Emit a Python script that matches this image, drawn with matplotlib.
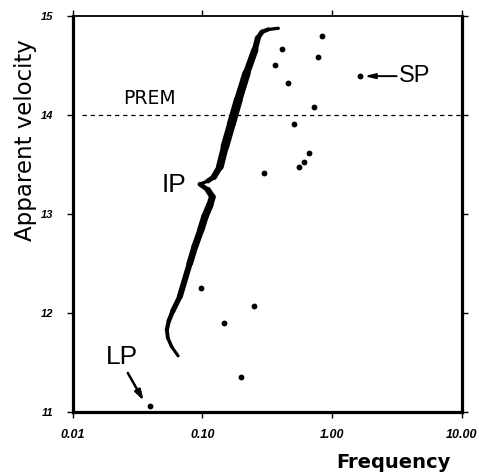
import matplotlib
matplotlib.use('Agg')
import matplotlib.pyplot as plt
from matplotlib.collections import LineCollection

# ---- data ----
# scattered observations (frequency, apparent velocity)
obs_freq = [0.83, 0.41, 0.78, 0.36, 1.65, 0.46, 0.72, 0.51, 0.66, 0.61, 0.56, 0.30,
            0.098, 0.25, 0.148, 0.198, 0.0395]
obs_vel = [14.80, 14.66, 14.58, 14.50, 14.39, 14.32, 14.08, 13.91, 13.61, 13.52, 13.47, 13.41,
           12.25, 12.07, 11.90, 11.35, 11.06]

# IP curve (bottom to top)
ip_freq = [0.0650, 0.0581, 0.0542, 0.0532, 0.0551, 0.0592, 0.0670, 0.0800, 0.0875, 0.0973,
           0.1045, 0.1143, 0.1194, 0.1103, 0.0957, 0.1103, 0.1227, 0.1365, 0.1492, 0.168,
           0.189, 0.219, 0.254, 0.268, 0.288, 0.321, 0.385]
ip_vel = [11.566, 11.657, 11.746, 11.829, 11.919, 12.020, 12.164, 12.502, 12.669, 12.838,
          12.969, 13.090, 13.171, 13.242, 13.299, 13.332, 13.373, 13.476, 13.678, 13.914,
          14.149, 14.419, 14.654, 14.775, 14.836, 14.861, 14.873]

prem_velocity = 14.0
x_ticks = [0.01, 0.1, 1.0, 10.0]
x_tick_labels = ['0.01', '0.10', '1.00', '10.00']
y_ticks = [11, 12, 13, 14, 15]
y_tick_labels = ['11', '12', '13', '14', '15']

# ---- style: segment widths (pt) for the IP curve ----
ip_widths = [2.2, 2.5, 2.8, 3.0, 3.3, 3.8, 4.3, 4.8, 5.0, 5.3, 5.3, 5.0, 4.4, 3.4, 2.4,
             3.6, 4.6, 5.6, 6.2, 6.4, 6.0, 5.2, 4.3, 3.6, 3.0, 2.4]

fig = plt.figure(figsize=(4.79, 4.72), dpi=100)
ax = fig.add_axes([72.7 / 479, 1 - 412 / 472, (461.7 - 72.7) / 479, (412 - 15.7) / 472])
ax.set_xscale('log')
ax.set_xlim(0.01, 10)
ax.set_ylim(11, 15)

# PREM line
ax.plot([0.0117, 10], [prem_velocity, prem_velocity], color='black', lw=0.9,
        dashes=(3.5, 3.0))

# IP curve
segs = [[(ip_freq[i], ip_vel[i]), (ip_freq[i + 1], ip_vel[i + 1])] for i in range(len(ip_freq) - 1)]
lc = LineCollection(segs, linewidths=ip_widths, colors='black', capstyle='round',
                    joinstyle='round', transform=ax.transData)
ax.add_collection(lc)

# observations
ax.plot(obs_freq, obs_vel, 'o', color='black', ms=4.2, mec='none', clip_on=False)

# annotations
lab_font = 'Liberation Sans'
ax.text(0.0393, 14.163, 'PREM', fontsize=13.5, family='DejaVu Sans', ha='center', va='center')
ax.text(3.3, 14.39, 'SP', fontsize=17, family=lab_font, ha='left', va='center')
ax.annotate('', xy=(1.78, 14.39), xytext=(3.15, 14.39),
            arrowprops=dict(arrowstyle='-|>,head_length=0.6,head_width=0.15', color='black', lw=1.4,
                            shrinkA=0, shrinkB=0))
ax.text(0.0757, 13.29, 'IP', fontsize=19, family=lab_font, ha='right', va='center')
ax.text(0.0241, 11.556, 'LP', fontsize=19, family=lab_font, ha='center', va='center')
ax.annotate('', xy=(0.0353, 11.112), xytext=(0.0266, 11.394),
            arrowprops=dict(arrowstyle='-|>,head_length=0.6,head_width=0.18', color='black', lw=1.8,
                            shrinkA=0, shrinkB=0))

# axes styling
ax.set_xticks(x_ticks)
ax.set_xticklabels(x_tick_labels)
ax.set_yticks(y_ticks)
ax.set_yticklabels(y_tick_labels)
ax.minorticks_off()
ax.tick_params(axis='both', which='major', direction='out', length=4, width=1,
               top=True, right=True, labelright=False, labeltop=False)
ax.tick_params(axis='x', pad=8)
ax.tick_params(axis='y', pad=10)
for lbl in ax.get_xticklabels():
    lbl.set_fontfamily(lab_font)
    lbl.set_fontstyle('italic')
    lbl.set_fontweight('bold')
    lbl.set_fontsize(9)
for lbl in ax.get_yticklabels():
    lbl.set_fontfamily(lab_font)
    lbl.set_fontstyle('italic')
    lbl.set_fontweight('bold')
    lbl.set_fontsize(8)

for side in ['left', 'right', 'bottom']:
    ax.spines[side].set_linewidth(2.3)
ax.spines['top'].set_linewidth(1.3)

fig.text(26 / 479, 1 - 140 / 472, 'Apparent velocity', rotation=90, fontsize=16.5,
         family='DejaVu Sans', ha='center', va='center')
fig.text(393 / 479, 1 - 462 / 472, 'Frequency', fontsize=14, family='DejaVu Sans',
         fontweight='bold', ha='center', va='center')

fig.savefig('out.png', dpi=100)
